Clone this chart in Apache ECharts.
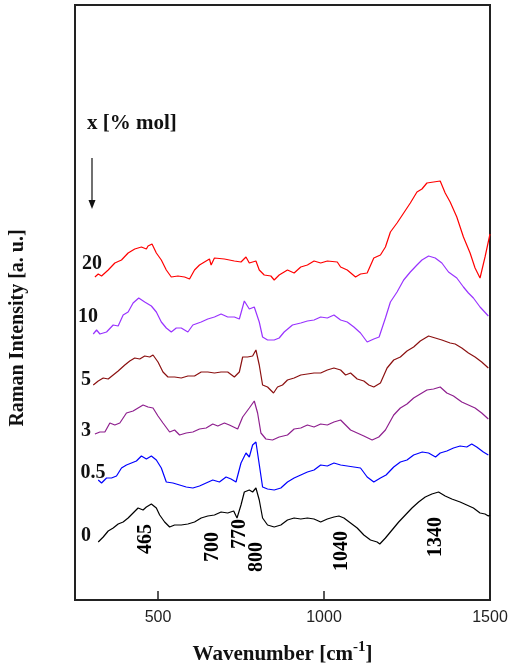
<!DOCTYPE html>
<html>
<head>
<meta charset="utf-8">
<script src="https://cdn.jsdelivr.net/npm/echarts@6/dist/echarts.min.js"></script>
<style>
  html, body { margin: 0; padding: 0; background: #fff; }
  #chart { width: 509px; height: 666px; }
</style>
</head>
<body>
<div id="chart"></div>
<script>
// spectra: [wavenumber, intensity (a.u., stacked)]
var spec20 = [[310,323],[320,326],[330,324],[350,330],[370,337],[390,340],[410,347],[430,351],[450,353],[465,351],[470,354],[482,356],[495,347],[510,340],[525,330],[540,323],[560,324],[580,323],[595,321],[610,330],[625,335],[640,338],[655,341],[660,335],[670,342],[700,341],[730,339],[750,338],[765,343],[775,337],[795,339],[805,330],[820,325],[840,324],[850,320],[865,325],[890,330],[910,327],[930,333],[950,335],[970,339],[990,337],[1010,339],[1040,338],[1050,333],[1070,330],[1095,323],[1110,326],[1130,327],[1150,342],[1170,345],[1185,353],[1200,368],[1220,377],[1240,387],[1260,397],[1280,408],[1295,411],[1310,417],[1330,418],[1350,419],[1365,407],[1380,398],[1400,383],[1420,363],[1440,347],[1455,332],[1470,322],[1485,343],[1500,366]];
var spec10 = [[305,266],[315,270],[325,266],[345,268],[365,275],[380,274],[395,285],[410,288],[425,297],[442,302],[460,298],[480,294],[495,288],[510,278],[525,272],[540,268],[555,272],[570,272],[590,268],[605,275],[630,278],[650,281],[670,283],[690,286],[710,283],[730,283],[745,281],[760,299],[775,291],[790,293],[805,278],[815,263],[830,260],[850,260],[865,262],[880,268],[905,275],[930,277],[950,279],[970,280],[990,283],[1010,282],[1030,285],[1050,280],[1070,278],[1090,273],[1110,267],[1130,258],[1150,261],[1166,263],[1185,282],[1200,298],[1220,308],[1240,320],[1260,328],[1280,335],[1295,340],[1315,344],[1335,342],[1355,337],[1375,328],[1400,322],[1420,313],[1435,307],[1450,302],[1470,293],[1495,284]];
var spec5 = [[305,215],[320,219],[335,222],[350,221],[365,225],[380,229],[400,235],[415,239],[430,242],[445,241],[460,244],[475,243],[485,245],[500,238],[515,228],[530,223],[550,223],[570,222],[590,224],[610,224],[630,228],[650,228],[670,227],[690,228],[710,228],[730,223],[745,228],[755,243],[770,243],[785,244],[795,250],[805,235],[815,215],[830,213],[848,207],[860,213],[875,215],[890,220],[910,222],[930,225],[950,226],[970,227],[990,227],[1010,230],[1030,232],[1050,230],[1065,225],[1080,227],[1100,221],[1120,219],[1135,215],[1150,213],[1170,217],[1190,232],[1210,240],[1230,243],[1250,249],[1270,253],[1290,259],[1315,264],[1335,262],[1355,260],[1380,257],[1395,256],[1415,252],[1435,247],[1455,243],[1475,238],[1495,232]];
var spec3 = [[310,166],[325,168],[340,168],[355,177],[370,175],[385,177],[405,187],[425,189],[440,192],[455,195],[470,193],[485,192],[500,184],[515,177],[535,168],[550,170],[565,165],[585,167],[605,168],[625,171],[645,172],[665,176],[680,174],[700,177],[715,175],[740,171],[755,183],[775,192],[790,199],[800,187],[810,167],[825,161],[845,160],[865,163],[890,165],[910,171],[930,172],[950,175],[970,173],[990,176],[1010,175],[1030,178],[1050,180],[1065,175],[1080,170],[1100,167],[1120,164],[1145,160],[1165,163],[1185,170],[1210,185],[1230,192],[1250,196],[1270,202],[1290,206],[1310,210],[1330,211],[1350,213],[1370,207],[1390,204],[1415,198],[1435,195],[1455,192],[1475,187],[1495,181]];
var spec05 = [[320,120],[330,117],[345,122],[360,122],[375,124],[390,132],[405,135],[420,137],[435,139],[450,144],[465,141],[480,144],[495,140],[510,132],[525,118],[545,117],[565,115],[585,113],[605,112],[625,114],[645,117],[665,120],[685,118],[705,123],[720,121],[735,118],[750,137],[765,147],[775,143],[785,155],[795,158],[803,140],[815,113],[830,111],[850,110],[870,112],[890,118],[910,122],[930,125],[950,128],[970,130],[990,135],[1010,134],[1030,137],[1050,135],[1070,134],[1090,133],[1110,132],[1130,123],[1150,118],[1170,122],[1187,125],[1210,133],[1230,138],[1250,140],[1270,145],[1296,148],[1315,147],[1336,143],[1350,147],[1370,149],[1390,152],[1410,154],[1430,153],[1445,156],[1460,153],[1480,148],[1495,145]];
var spec0 = [[320,58],[335,63],[350,69],[365,72],[380,76],[395,78],[410,82],[425,87],[440,92],[455,90],[465,93],[480,96],[495,92],[505,85],[520,78],[535,73],[550,75],[570,75],[590,76],[610,78],[630,82],[650,84],[670,85],[690,88],[710,87],[728,89],[738,82],[750,95],[760,108],[775,110],[785,108],[795,112],[805,100],[815,82],[830,75],[850,73],[870,75],[890,80],[910,82],[930,81],[950,82],[970,81],[990,78],[1010,81],[1030,83],[1045,84],[1060,82],[1080,77],[1100,72],[1120,65],[1140,60],[1160,58],[1168,56],[1185,62],[1205,70],[1225,78],[1245,85],[1265,92],[1285,98],[1305,103],[1325,106],[1345,108],[1365,104],[1385,101],[1410,98],[1430,95],[1450,92],[1470,87],[1485,86],[1495,84],[1500,85]];

var seriesNames = ['20', '10', '5', '3', '0.5', '0'];
var seriesColors = ['#ff0000', '#9933ff', '#8b1010', '#8e1f8e', '#0000ff', '#000000'];
var allSpectra = [spec20, spec10, spec5, spec3, spec05, spec0];

// band labels (rotated) and where they sit
var bandLabels = ['465', '700', '770', '800', '1040', '1340'];
var bandPos = [[463, 61], [665, 53], [746, 66], [797, 43], [1055, 49], [1338, 63]];

var xTicks = [500, 1000, 1500];

var serif = '"Liberation Serif", "Times New Roman", serif';

var myChart = echarts.init(document.getElementById('chart'));

var series = allSpectra.map(function (d, i) {
  return {
    name: seriesNames[i],
    type: 'line',
    data: d,
    showSymbol: false,
    symbol: 'none',
    smooth: false,
    lineStyle: { color: seriesColors[i], width: 1.2 },
    silent: true
  };
});

series.push({
  type: 'scatter',
  symbolSize: 0,
  silent: true,
  itemStyle: { opacity: 1, color: '#000' },
  data: bandPos.map(function (p, i) { return { value: p, name: bandLabels[i] }; }),
  label: {
    show: true,
    position: 'inside',
    rotate: 90,
    formatter: '{b}',
    fontFamily: serif,
    fontWeight: 'bold',
    fontSize: 20,
    color: '#000',
    opacity: 1
  }
});

// curve labels on the left
var curveLabelPos = [[92, 264], [88, 317], [86, 380], [86, 431], [93, 473], [86, 536]];
var graphics = curveLabelPos.map(function (p, i) {
  return {
    type: 'text', x: p[0], y: p[1],
    style: {
      text: seriesNames[i], font: 'bold 20px ' + serif, fill: '#111',
      textAlign: 'center', textVerticalAlign: 'middle'
    }
  };
});
graphics.push({
  type: 'text', x: 87, y: 124,
  style: { text: 'x [% mol]', font: 'bold 21px ' + serif, fill: '#111', textAlign: 'left', textVerticalAlign: 'middle' }
});
graphics.push({
  type: 'line', shape: { x1: 92, y1: 158, x2: 92, y2: 202 },
  style: { stroke: '#111', lineWidth: 1.2 }
});
graphics.push({
  type: 'polygon', shape: { points: [[88.5, 200], [95.5, 200], [92, 209]] },
  style: { fill: '#111' }
});
graphics.push({
  type: 'text', x: 18, y: 328, rotation: Math.PI / 2,
  style: { text: 'Raman Intensity [a. u.]', font: 'bold 20px ' + serif, fill: '#111', textAlign: 'center', textVerticalAlign: 'middle' }
});

var option = {
  backgroundColor: '#fff',
  animation: false,
  grid: {
    left: 75, right: 19, top: 5, bottom: 66,
    outerBoundsMode: 'none',
    containLabel: false,
    show: true, borderColor: '#222', borderWidth: 2
  },
  xAxis: {
    type: 'value',
    min: 250, max: 1500,
    name: '{a|Wavenumber [cm}{b|-1}{a|]}',
    nameLocation: 'middle',
    nameGap: 40,
    nameTextStyle: {
      rich: {
        a: { fontFamily: serif, fontWeight: 'bold', fontSize: 21, color: '#111', lineHeight: 24 },
        b: { fontFamily: serif, fontWeight: 'bold', fontSize: 15, color: '#111', padding: [0, 0, 14, 0] }
      }
    },
    axisLine: { show: true, lineStyle: { color: '#222', width: 2 } },
    axisTick: { show: true, inside: true, length: 9, customValues: xTicks, lineStyle: { color: '#222', width: 1.5 } },
    axisLabel: {
      customValues: xTicks,
      formatter: function (v) { return String(v); },
      fontFamily: '"Liberation Sans", Arial, sans-serif', fontSize: 16, color: '#222', margin: 10
    },
    splitLine: { show: false }
  },
  yAxis: {
    type: 'value',
    min: 0, max: 595,
    axisLine: { show: true, lineStyle: { color: '#222', width: 2 } },
    axisTick: { show: false },
    axisLabel: { show: false },
    splitLine: { show: false }
  },
  series: series,
  graphic: graphics
};

myChart.setOption(option);
window.addEventListener('resize', function () { myChart.resize(); });
</script>
</body>
</html>
